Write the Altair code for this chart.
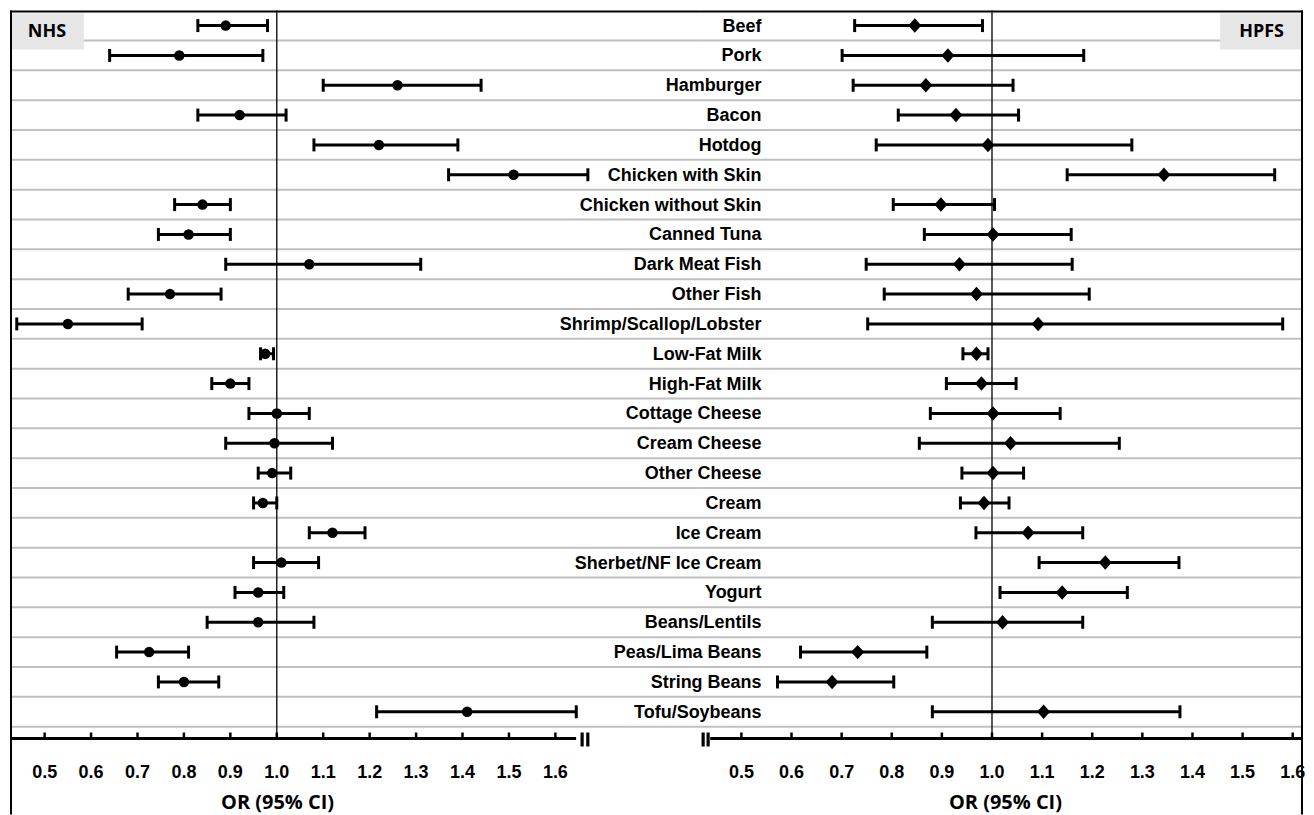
import altair as alt
import pandas as pd

categories = ["Beef", "Pork", "Hamburger", "Bacon", "Hotdog", "Chicken with Skin",
              "Chicken without Skin", "Canned  Tuna", "Dark Meat Fish", "Other Fish",
              "Shrimp/Scallop/Lobster", "Low-Fat Milk", "High-Fat Milk", "Cottage Cheese",
              "Cream Cheese", "Other Cheese", "Cream", "Ice Cream", "Sherbet/NF Ice Cream",
              "Yogurt", "Beans/Lentils", "Peas/Lima Beans", "String Beans", "Tofu/Soybeans"]

nhs_est = [0.89, 0.79, 1.26, 0.92, 1.22, 1.51, 0.84, 0.81, 1.07, 0.77, 0.55, 0.975,
           0.90, 1.00, 0.995, 0.99, 0.97, 1.12, 1.01, 0.96, 0.96, 0.725, 0.80, 1.41]
nhs_lo = [0.83, 0.64, 1.10, 0.83, 1.08, 1.37, 0.78, 0.745, 0.89, 0.68, 0.44, 0.965,
          0.86, 0.94, 0.89, 0.96, 0.95, 1.07, 0.95, 0.91, 0.85, 0.655, 0.745, 1.215]
nhs_hi = [0.98, 0.97, 1.44, 1.02, 1.39, 1.67, 0.90, 0.90, 1.31, 0.88, 0.71, 0.993,
          0.94, 1.07, 1.12, 1.03, 1.00, 1.19, 1.09, 1.015, 1.08, 0.81, 0.875, 1.645]

hpfs_est = [0.846, 0.912, 0.868, 0.928, 0.992, 1.343, 0.898, 1.002, 0.935, 0.969, 1.092, 0.969,
            0.979, 1.002, 1.037, 1.002, 0.984, 1.072, 1.226, 1.140, 1.021, 0.732, 0.681, 1.103]
hpfs_lo = [0.726, 0.701, 0.723, 0.813, 0.769, 1.150, 0.803, 0.865, 0.749, 0.785, 0.752, 0.942,
           0.909, 0.877, 0.855, 0.940, 0.937, 0.968, 1.094, 1.016, 0.881, 0.618, 0.572, 0.881]
hpfs_hi = [0.981, 1.183, 1.042, 1.053, 1.279, 1.564, 1.005, 1.158, 1.160, 1.194, 1.580, 0.992,
           1.048, 1.136, 1.254, 1.063, 1.034, 1.181, 1.373, 1.270, 1.181, 0.870, 0.804, 1.375]

tick_values = [0.5, 0.6, 0.7, 0.8, 0.9, 1.0, 1.1, 1.2, 1.3, 1.4, 1.5, 1.6]
tick_labels = ["0.5", "0.6", "0.7", "0.8", "0.9", "1.0", "1.1", "1.2", "1.3", "1.4", "1.5", "1.6"]
null_value = [1.0]

rows = list(range(len(categories)))
df_nhs = pd.DataFrame({"food": categories, "row": rows, "est": nhs_est, "lo": nhs_lo, "hi": nhs_hi})
df_hpfs = pd.DataFrame({"food": categories, "row": rows, "est": hpfs_est, "lo": hpfs_lo, "hi": hpfs_hi})
df_ticks = pd.DataFrame({"t": tick_values, "lab": tick_labels})
df_ref = pd.DataFrame({"ref": null_value})
one = pd.DataFrame({"k": [0]})

# layout
ROW_H = 29.88
TOP_OFF = 15.0
H = 805
WL = 692
WR = 603
AXIS_Y = 729
yscale = alt.Scale(domain=[-TOP_OFF / ROW_H, (H - TOP_OFF) / ROW_H], reverse=True, nice=False, zero=False)
LABEL_FONT = "Liberation Sans, Arial, sans-serif"
BOX_FONT = "Open Sans, Noto Sans, sans-serif"
DIAMOND = "M0,-1L0.9,0L0,1L-0.9,0Z"


def panel(df, xdom, width, shape, size, box_x, box_w, box_text, axis_x0, axis_x1,
          break_xs, title_x, with_labels):
    xs = alt.Scale(domain=xdom, nice=False, zero=False)
    Y = alt.Y("row:Q", scale=yscale, axis=None)
    base = alt.Chart(df)
    layers = []
    layers.append(base.transform_calculate(sep="datum.row + 0.5").mark_rule(
        color="#c0c0c0", strokeWidth=2).encode(
        y=alt.Y("sep:Q", scale=yscale, axis=None), x=alt.value(0), x2=alt.value(width)))
    layers.append(alt.Chart(one).mark_rect(color="#e6e6e6").encode(
        x=alt.value(box_x), x2=alt.value(box_x + box_w), y=alt.value(3), y2=alt.value(39)))
    layers.append(alt.Chart(one).mark_text(font=BOX_FONT, fontSize=18, fontWeight="bold",
                                           color="black", baseline="middle").encode(
        x=alt.value(box_x + box_w / 2), y=alt.value(21), text=alt.value(box_text)))
    layers.append(alt.Chart(df_ref).mark_rule(color="black", strokeWidth=1.3).encode(
        x=alt.X("ref:Q", scale=xs, axis=None), y=alt.value(0), y2=alt.value(AXIS_Y)))
    layers.append(base.mark_rule(color="black", strokeWidth=3).encode(
        x=alt.X("lo:Q", scale=xs, axis=None), x2="hi:Q", y=Y))
    layers.append(base.transform_fold(["lo", "hi"], as_=["end", "val"]).mark_tick(
        orient="vertical", size=13, thickness=3, color="black", opacity=1).encode(
        x=alt.X("val:Q", scale=xs, axis=None), y=Y))
    layers.append(base.mark_point(filled=True, opacity=1, color="black", shape=shape,
                                  size=size).encode(
        x=alt.X("est:Q", scale=xs, axis=None), y=Y))
    # axis
    layers.append(alt.Chart(one).mark_rule(color="black", strokeWidth=3.2).encode(
        x=alt.value(axis_x0), x2=alt.value(axis_x1), y=alt.value(AXIS_Y)))
    layers.append(alt.Chart(df_ticks).mark_rule(color="black", strokeWidth=2.5).encode(
        x=alt.X("t:Q", scale=xs, axis=None), y=alt.value(AXIS_Y - 6), y2=alt.value(AXIS_Y)))
    layers.append(alt.Chart(df_ticks).mark_text(font=LABEL_FONT, fontSize=18, fontWeight="bold",
                                                color="black", baseline="middle").encode(
        x=alt.X("t:Q", scale=xs, axis=None), y=alt.value(764), text="lab:N"))
    for bx in break_xs:
        layers.append(alt.Chart(one).mark_rule(color="black", strokeWidth=3.2).encode(
            x=alt.value(bx), y=alt.value(AXIS_Y - 6), y2=alt.value(AXIS_Y + 8)))
    layers.append(alt.Chart(one).mark_text(font=BOX_FONT, fontSize=20, fontWeight="bold",
                                           color="black", baseline="middle").encode(
        x=alt.value(title_x), y=alt.value(794), text=alt.value("OR (95% CI)")))
    # frame
    layers.append(alt.Chart(one).mark_rule(color="black", strokeWidth=2).encode(
        x=alt.value(0), x2=alt.value(width), y=alt.value(1)))
    if with_labels:
        layers.append(base.mark_text(align="right", baseline="middle", font=LABEL_FONT,
                                     fontSize=18, fontWeight="bold", color="black", dy=1).encode(
            x=alt.value(60.7), y=Y, text="food:N"))
        layers.append(alt.Chart(one).mark_rule(color="black", strokeWidth=2).encode(
            x=alt.value(width - 1), y=alt.value(0), y2=alt.value(H)))
    else:
        layers.append(alt.Chart(one).mark_rule(color="black", strokeWidth=2).encode(
            x=alt.value(1), y=alt.value(0), y2=alt.value(H)))
    return alt.layer(*layers).properties(width=width, height=H)


left = panel(df_nhs, [0.4254, 1.9135], WL, "circle", 110, 0, 74, "NHS", 1.3, 567,
             [573, 578.7], 268, False)
right = panel(df_hpfs, [0.4193, 1.6205], WR, DIAMOND, 210, 520, 83, "HPFS", 9.3, WR,
              [2.2, 7.2], 305, True)

chart = alt.hconcat(left, right, spacing=0, bounds="flush").configure_view(
    stroke="transparent").properties(padding=0)

chart.save("out.html", embed_options={"renderer": "svg", "actions": False})
